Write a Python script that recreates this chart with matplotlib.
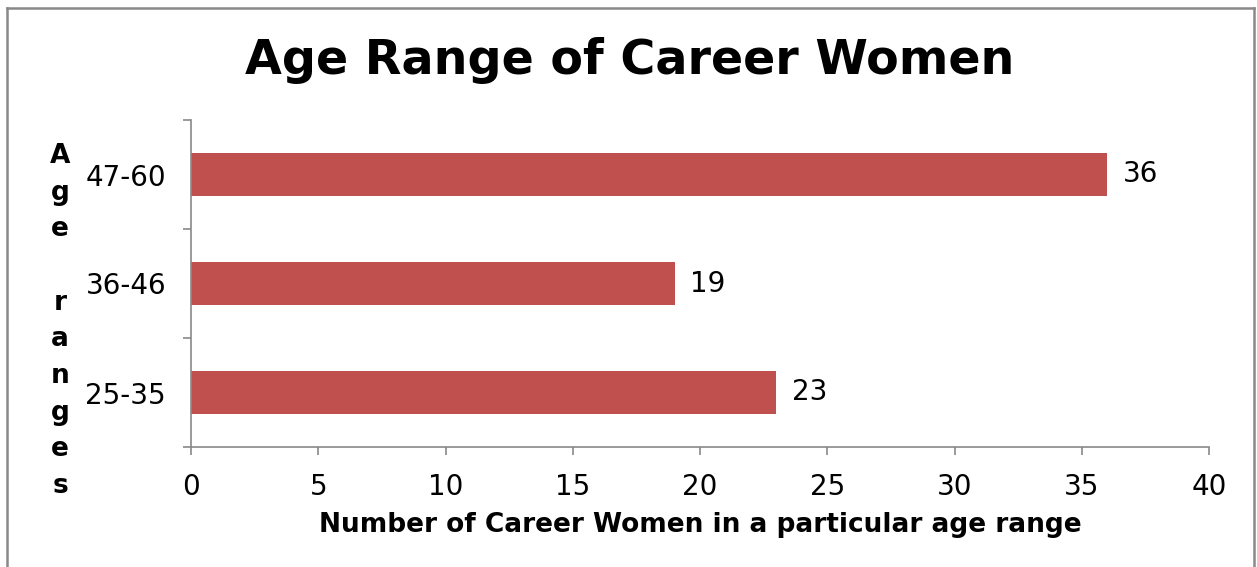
import matplotlib
matplotlib.use("Agg")
import matplotlib.pyplot as plt
from matplotlib.lines import Line2D

# data
age_ranges = ["25-35", "36-46", "47-60"]
women_count = [23, 19, 36]
x_ticks = [0, 5, 10, 15, 20, 25, 30, 35, 40]

bar_color = "#C0504D"
axis_color = "#898989"

plt.rcParams['font.family'] = ['DejaVu Sans']

fig = plt.figure(figsize=(12.57, 5.67), dpi=100)
ax = fig.add_axes([191/1257, 1 - 447/567, (1209 - 191)/1257, (447 - 120)/567])

ypos = list(range(len(age_ranges)))
bars = ax.barh(ypos, women_count, height=0.4, color=bar_color)
ax.bar_label(bars, labels=[str(v) for v in women_count], padding=11, fontsize=20)

ax.set_xlim(0, 40)
ax.set_ylim(-0.5, len(age_ranges) - 0.5)
ax.set_xticks(x_ticks)
ax.set_xticklabels([str(t) for t in x_ticks], fontsize=20)
ax.set_yticks(ypos)
ax.set_yticklabels(age_ranges, fontsize=20)
ax.set_yticks([i - 0.5 for i in range(len(age_ranges) + 1)], minor=True)

ax.tick_params(axis='y', which='major', length=0, pad=18)
ax.tick_params(axis='y', which='minor', length=6, width=1.2, color=axis_color, direction='out')
ax.tick_params(axis='x', which='major', length=6, width=1.2, color=axis_color, direction='out', pad=13)

for side in ['top', 'right']:
    ax.spines[side].set_visible(False)
for side in ['left', 'bottom']:
    ax.spines[side].set_color(axis_color)
    ax.spines[side].set_linewidth(1.2)

ax.set_xlabel("Number of Career Women in a particular age range",
              fontsize=19, fontweight='bold', labelpad=8)

fig.text(630/1257, 1 - 61/567, "Age Range of Career Women",
         fontsize=34.3, fontweight='bold', ha='center', va='center')

ylab = "\n".join(list("Age ranges"))
fig.text(60/1257, 1 - 321/567, ylab, fontsize=19, fontweight='bold',
         ha='center', va='center', linespacing=1.53)

# outer border of the chart area
bx0, bx1, by0, by1 = 6.5/1257, 1254/1257, 0.0, 1 - 7.5/567
for xs, ys in [([bx0, bx0], [by0, by1]), ([bx0, bx1], [by1, by1]), ([bx1, bx1], [by1, by0])]:
    fig.add_artist(Line2D(xs, ys, transform=fig.transFigure, color=axis_color, linewidth=1.8))

fig.savefig("out.png", dpi=100)
